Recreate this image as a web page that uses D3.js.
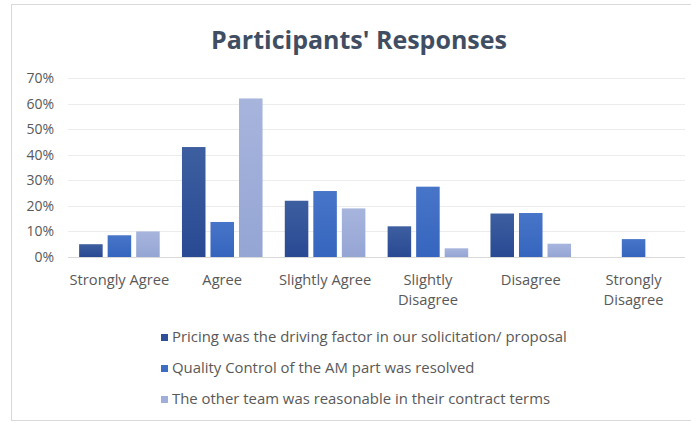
<!DOCTYPE html>
<html>
<head>
<meta charset="utf-8">
<script src="https://cdn.jsdelivr.net/npm/d3@7"></script>
<style>
  body { margin: 0; background: #fff; }
  text { font-family: "Open Sans", "Noto Sans", sans-serif; }
</style>
</head>
<body>
<div id="chart"></div>
<script>
const categories = [["Strongly Agree"], ["Agree"], ["Slightly Agree"], ["Slightly", "Disagree"], ["Disagree"], ["Strongly", "Disagree"]];
const seriesNames = [
    "Pricing was the driving factor in our solicitation/ proposal",
    "Quality Control of the AM part was resolved",
    "The other team was reasonable in their contract terms"
];
const pricing = [0.05, 0.43, 0.22, 0.12, 0.17, 0];
const quality = [0.085, 0.137, 0.258, 0.275, 0.172, 0.07];
const otherTeam = [0.10, 0.62, 0.19, 0.034, 0.052, 0];
const yTicks = [0, 0.1, 0.2, 0.3, 0.4, 0.5, 0.6, 0.7];

const series = [pricing, quality, otherTeam];
const gradColors = [["#3d5e9f", "#294a93"], ["#4775c8", "#3565be"], ["#a7b5dd", "#95a5d4"]];
const legendColors = ["#2f5097", "#3d6cc3", "#a0afd9"];

const width = 691, height = 423;
const svg = d3.select("#chart").append("svg")
    .attr("width", width)
    .attr("height", height);

// chart frame
svg.append("rect")
    .attr("x", 11.5).attr("y", 4.5)
    .attr("width", 700).attr("height", 416)
    .style("fill", "#fff")
    .style("stroke", "#d9d9d9");

const defs = svg.append("defs");
gradColors.forEach((c, i) => {
    const g = defs.append("linearGradient")
        .attr("id", "grad" + i)
        .attr("x1", 0).attr("y1", 0).attr("x2", 0).attr("y2", 1);
    g.append("stop").attr("offset", "0%").attr("stop-color", c[0]);
    g.append("stop").attr("offset", "100%").attr("stop-color", c[1]);
});

svg.append("text")
    .attr("x", 359).attr("y", 49)
    .attr("text-anchor", "middle")
    .style("font-size", "25px")
    .style("font-weight", "bold")
    .style("fill", "#3f4e63")
    .text("Participants' Responses");

const x0 = d3.scaleBand()
    .domain(d3.range(categories.length))
    .range([68, 685]);
const x1 = d3.scaleBand()
    .domain(d3.range(series.length))
    .range([0, x0.bandwidth()])
    .paddingInner(0.175)
    .paddingOuter(0.39);
const y = d3.scaleLinear()
    .domain([0, 0.7])
    .range([257, 78]);

// gridlines
svg.append("g")
    .selectAll("line")
    .data(yTicks)
    .join("line")
    .attr("x1", 68).attr("x2", 685)
    .attr("y1", d => Math.round(y(d)) + 0.5)
    .attr("y2", d => Math.round(y(d)) + 0.5)
    .style("stroke", d => d === 0 ? "#d9d9d9" : "#ececec")
    .style("stroke-width", 1);

const yAxis = svg.append("g")
    .attr("transform", "translate(54,0)")
    .call(d3.axisLeft(y).tickValues(yTicks).tickFormat(d3.format(".0%")).tickSize(0).tickPadding(0));
yAxis.select(".domain").remove();
yAxis.selectAll("text")
    .style("font-size", "14px")
    .style("fill", "#595959")
    .style("font-family", "\"Open Sans\", sans-serif");

// bars
series.forEach((vals, si) => {
    svg.append("g")
        .selectAll("rect")
        .data(vals)
        .join("rect")
        .attr("x", (d, i) => x0(i) + x1(si))
        .attr("y", d => y(d))
        .attr("width", x1.bandwidth())
        .attr("height", d => y(0) - y(d))
        .style("fill", "url(#grad" + si + ")");
});

// category labels
const cat = svg.append("g");
categories.forEach((lines, i) => {
    const t = cat.append("text")
        .attr("x", x0(i) + x0.bandwidth() / 2)
        .attr("y", 285)
        .attr("text-anchor", "middle")
        .style("font-size", "14.7px")
        .style("fill", "#595959");
    lines.forEach((ln, k) => {
        t.append("tspan")
            .attr("x", x0(i) + x0.bandwidth() / 2)
            .attr("dy", k === 0 ? 0 : 20)
            .text(ln);
    });
});

// legend
const legend = svg.append("g");
seriesNames.forEach((name, i) => {
    const ly = 342 + i * 31;
    legend.append("rect")
        .attr("x", 161).attr("y", ly - 8)
        .attr("width", 7).attr("height", 7)
        .style("fill", legendColors[i]);
    legend.append("text")
        .attr("x", 172).attr("y", ly)
        .style("font-size", "14.9px")
        .style("fill", "#595959")
        .text(name);
});
</script>
</body>
</html>
